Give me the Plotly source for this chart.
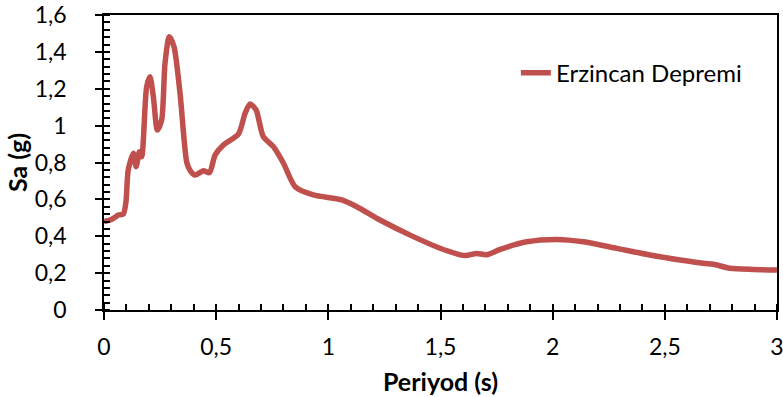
import plotly.graph_objects as go

period = [0, 0.027, 0.049, 0.064, 0.086, 0.098, 0.108, 0.131, 0.143, 0.158, 0.168,
          0.19, 0.205, 0.22, 0.238, 0.257, 0.272, 0.291, 0.312, 0.339, 0.369,
          0.385, 0.406, 0.443, 0.47, 0.495, 0.532, 0.599, 0.629, 0.651, 0.678,
          0.71, 0.755, 0.8, 0.852, 0.933, 1.06, 1.127, 1.23, 1.379, 1.498,
          1.609, 1.66, 1.706, 1.766, 1.884, 2.018, 2.137, 2.286, 2.434, 2.568,
          2.672, 2.717, 2.79, 2.895, 3.0]
sa = [0.479, 0.488, 0.503, 0.515, 0.52, 0.587, 0.76, 0.85, 0.777, 0.858, 0.831,
      1.21, 1.265, 1.157, 0.976, 1.03, 1.338, 1.482, 1.428, 1.175, 0.80,
      0.755, 0.732, 0.755, 0.745, 0.84, 0.895, 0.954, 1.067, 1.117, 1.085,
      0.94, 0.886, 0.796, 0.669, 0.624, 0.597, 0.56, 0.488, 0.398, 0.335,
      0.295, 0.307, 0.30, 0.329, 0.37, 0.383, 0.37, 0.334, 0.298, 0.271,
      0.253, 0.248, 0.226, 0.22, 0.217]

series_name = "Erzincan Depremi"
x_title = "Periyod (s)"
y_title = "Sa (g)"

FONT = "Lato"

fig = go.Figure()
fig.add_trace(go.Scatter(
    x=period, y=sa, mode="lines", name=series_name,
    line=dict(color="#C0504D", width=5.5, shape="spline", smoothing=0.7),
))

fig.update_layout(
    width=783, height=397,
    margin=dict(l=104, r=6, t=15, b=87, autoexpand=False),
    paper_bgcolor="white", plot_bgcolor="white",
    separators=",.",
    font=dict(family=FONT, size=23, color="black"),
    showlegend=True,
    legend=dict(x=0.612, xanchor="left", y=0.803, yanchor="middle",
                bgcolor="rgba(0,0,0,0)", font=dict(size=24, family=FONT)),
)
fig.update_xaxes(
    range=[0, 3], dtick=0.5, tick0=0, automargin=False,
    showline=True, linecolor="black", linewidth=1.5, mirror=True,
    ticks="outside", ticklen=8, tickwidth=1.5, tickcolor="black",
    ticklabelstandoff=8, ticklabeloverflow="allow",
    minor=dict(ticks="inside", dtick=0.1, ticklen=6, tickwidth=1.5, tickcolor="black"),
    showgrid=False, zeroline=False,
    title=dict(text="<b>" + x_title + "</b>", font=dict(size=25, family=FONT), standoff=14),
)
fig.update_yaxes(
    range=[0, 1.6], dtick=0.2, tick0=0, automargin=False,
    showline=True, linecolor="black", linewidth=1.5, mirror=True,
    ticks="outside", ticklen=7, tickwidth=1.5, tickcolor="black",
    ticklabelstandoff=24, ticklabeloverflow="allow",
    minor=dict(ticks="inside", dtick=0.04, ticklen=6, tickwidth=1.5, tickcolor="black"),
    showgrid=False, zeroline=False,
    title=dict(text="<b>" + y_title + "</b>", font=dict(size=25, family=FONT), standoff=0),
)

fig.write_html("out.html", config={"displayModeBar": False},
               post_script="document.body.style.margin='0';")
